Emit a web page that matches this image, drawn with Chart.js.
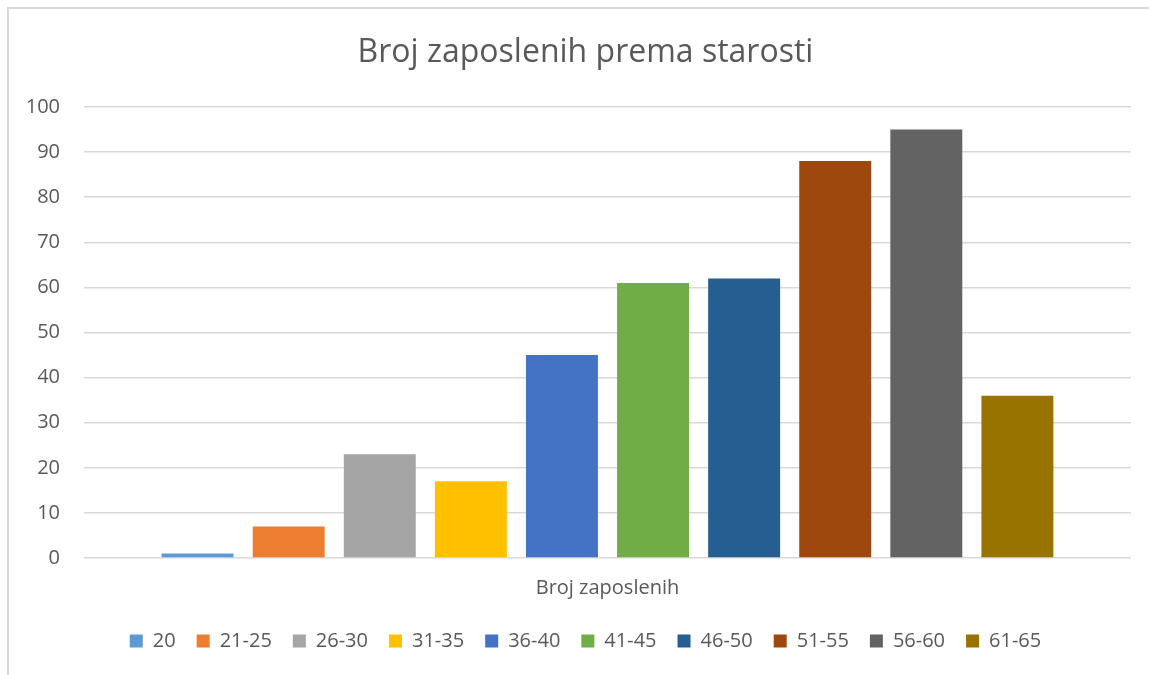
<!DOCTYPE html>
<html>
<head>
<meta charset="utf-8">
<script src="https://cdn.jsdelivr.net/npm/chart.js@4"></script>
<style>
  html, body { margin: 0; padding: 0; background: #fff; }
  #wrap { position: relative; width: 1149px; height: 675px; }
  #frame { position: absolute; left: 7px; top: 7px; right: 0; bottom: 0;
           border-top: 2px solid #d9d9d9; border-left: 2px solid #d9d9d9; }
  canvas { position: absolute; left: 0; top: 0; }
</style>
</head>
<body>
<div id="wrap">
  <div id="frame"></div>
  <canvas id="myChart" width="1149" height="675"></canvas>
</div>
<script>
const categories = ['Broj zaposlenih'];
const ageGroups = ['20', '21-25', '26-30', '31-35', '36-40', '41-45', '46-50', '51-55', '56-60', '61-65'];
const counts = [1, 7, 23, 17, 45, 61, 62, 88, 95, 36];
const colors = ['#5B9BD5', '#ED7D31', '#A5A5A5', '#FFC000', '#4472C4', '#70AD47', '#255E91', '#9E480E', '#636363', '#997300'];
const yTicks = { min: 0, max: 100, step: 10 };

const textColor = '#595959';
const fontFamily = '"Open Sans", Lato, sans-serif';

// title and legend sit a bit right of the canvas centre in the original
const nudge = {
  id: 'nudge',
  afterLayout(chart) {
    [chart.titleBlock, chart.legend].forEach(b => {
      if (b) { b.left += 20; b.right += 20; }
    });
  }
};

const ctx = document.getElementById('myChart');

new Chart(ctx, {
  type: 'bar',
  data: {
    labels: categories,
    datasets: ageGroups.map((g, i) => ({
      label: g,
      data: [counts[i]],
      backgroundColor: colors[i],
      categoryPercentage: 0.87,
      barPercentage: 0.79,
    }))
  },
  plugins: [nudge],
  options: {
    responsive: false,
    animation: false,
    layout: { padding: { left: 0, right: 18, top: 0, bottom: 14 } },
    plugins: {
      title: {
        display: true,
        text: 'Broj zaposlenih prema starosti',
        color: textColor,
        font: { family: fontFamily, size: 32, weight: 'normal' },
        padding: { top: 34, bottom: 34.6 }
      },
      legend: {
        position: 'bottom',
        labels: {
          color: textColor,
          font: { family: fontFamily, size: 20 },
          boxWidth: 13,
          boxHeight: 13,
          padding: 21
        }
      },
      tooltip: { enabled: false }
    },
    scales: {
      x: {
        grid: { display: false },
        border: { display: false },
        ticks: { color: textColor, font: { family: fontFamily, size: 20 }, padding: 10 }
      },
      y: {
        min: yTicks.min,
        max: yTicks.max,
        afterFit: s => { s.width = 84; },
        grid: { color: '#d9d9d9', lineWidth: 1.5, drawTicks: false },
        border: { display: false },
        ticks: {
          stepSize: yTicks.step,
          color: textColor,
          font: { family: fontFamily, size: 20 },
          padding: 24
        }
      }
    }
  }
});
</script>
</body>
</html>
